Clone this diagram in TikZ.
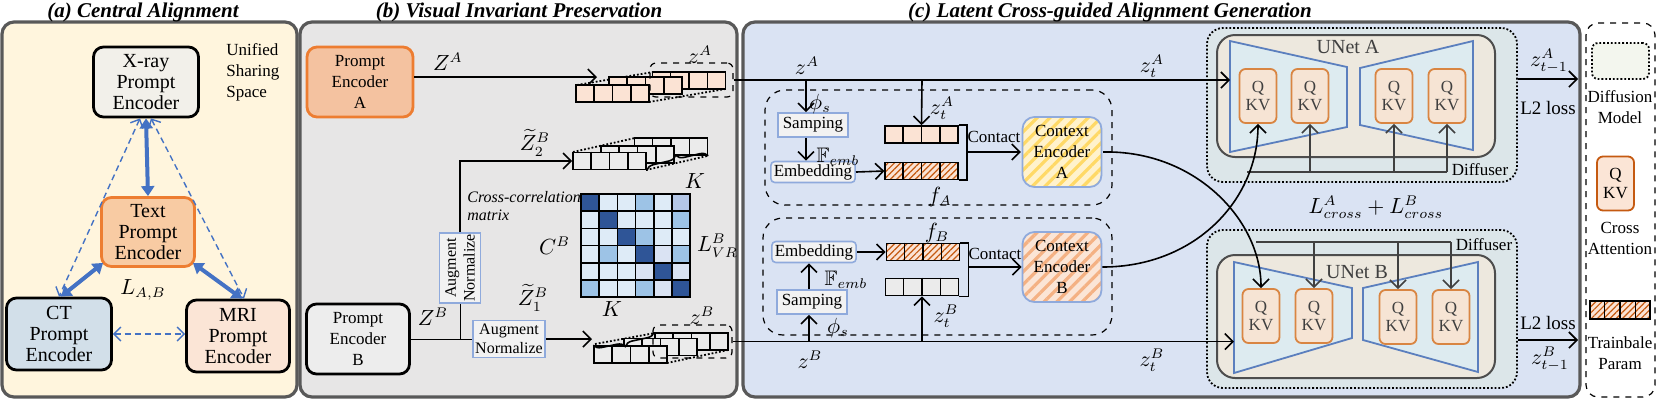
\documentclass[tikz,border=0pt]{standalone}
\usepackage{fontspec}
\setmainfont{Liberation Serif}
\usepackage{amssymb}
\usetikzlibrary{arrows.meta, positioning, calc, patterns.meta, decorations.pathreplacing}

\definecolor{panelgray}{RGB}{89,89,89}
\definecolor{bgyellow}{RGB}{255,245,221}
\definecolor{bggray}{RGB}{231,230,230}
\definecolor{bgblue}{RGB}{218,227,243}
\definecolor{xraygray}{RGB}{242,240,234}
\definecolor{textpeach}{RGB}{248,203,163}
\definecolor{encorange}{RGB}{237,125,49}
\definecolor{ctblue}{RGB}{210,223,233}
\definecolor{mripeach}{RGB}{251,229,214}
\definecolor{arrblue}{RGB}{68,114,196}
\definecolor{promptA}{RGB}{244,194,160}
\definecolor{promptB}{RGB}{237,237,237}
\definecolor{cellpeach}{RGB}{251,227,212}
\definecolor{cellgray}{RGB}{235,235,235}
\definecolor{boxline}{RGB}{143,170,220}
\definecolor{boxfill}{RGB}{242,242,242}
\definecolor{hatchorange}{RGB}{197,90,17}
\definecolor{ctxyellow}{RGB}{255,242,204}
\definecolor{ctxstripe}{RGB}{255,217,102}
\definecolor{ctxorange}{RGB}{244,177,131}
\definecolor{diffill}{RGB}{220,230,233}
\definecolor{unetfill}{RGB}{237,232,222}
\definecolor{unetline}{RGB}{77,77,77}
\definecolor{trapfill}{RGB}{221,235,240}
\definecolor{trapline}{RGB}{91,127,190}
\definecolor{qkvfill}{RGB}{246,228,212}
\definecolor{qkvline}{RGB}{217,133,66}
\definecolor{darktext}{RGB}{64,64,64}
\definecolor{legfill}{RGB}{243,246,238}
\definecolor{mD}{RGB}{47,85,151}
\definecolor{mM}{RGB}{157,195,230}
\definecolor{mL}{RGB}{222,235,247}
\definecolor{mP}{RGB}{218,227,243}
\definecolor{mV}{RGB}{180,199,231}

\newcommand{\fsenc}{\fontsize{10}{10.5}\selectfont}
\newcommand{\fsbox}{\fontsize{8.5}{10.5}\selectfont}
\newcommand{\fsaug}{\fontsize{8}{9.3}\selectfont}
\newcommand{\fsqkv}{\fontsize{8.5}{9.3}\selectfont}
\newcommand{\fslbl}{\fontsize{10.5}{12}\selectfont}

% one row of four cells
\newcommand{\cellrow}[3]{%
  \node[cellbox, #3] (#1) at (#2) {};
  \foreach \k in {1,2,3}
    \draw[line width=0.8pt] ($(#1.north west)!\k/4!(#1.north east)$) -- ($(#1.south west)!\k/4!(#1.south east)$);
}

\begin{document}
\begin{tikzpicture}[x=0.5pt, y=-0.5pt,
  panel/.style={draw=panelgray, line width=1.6pt, rounded corners=6pt},
  ttl/.style={font=\fontsize{10.5}{12}\selectfont\bfseries\itshape, inner sep=0pt},
  encbox/.style={draw, line width=1.4pt, rounded corners=5pt, align=center, inner sep=0pt, font=\fsenc},
  smallbox/.style={draw=boxline, fill=boxfill, line width=0.8pt, align=center, inner xsep=1.5pt, inner ysep=1pt, font=\fsbox},
  cellbox/.style={draw, line width=0.8pt, minimum width=36.5pt, minimum height=8.5pt, inner sep=0pt},
  hatch/.style={preaction={fill=cellpeach}, pattern={Lines[angle=45,distance=2.2pt,line width=0.6pt]}, pattern color=hatchorange},
  stackbox/.style={draw, dashed, line width=0.6pt, rounded corners=3pt, inner sep=0pt},
  grpbox/.style={draw, dashed, line width=0.6pt, rounded corners=10pt, inner sep=0pt},
  ctxbox/.style={draw=boxline, line width=0.9pt, rounded corners=6pt, align=center, inner sep=0pt, minimum width=39.5pt, minimum height=35pt, font=\fsbox},
  difbox/.style={draw, densely dotted, line width=0.9pt, rounded corners=8pt, fill=diffill, inner sep=0pt, minimum width=155pt},
  unetbox/.style={draw=unetline, fill=unetfill, line width=1pt, rounded corners=9pt, inner sep=0pt, minimum width=139pt},
  trap/.style={draw=trapline, fill=trapfill, line width=0.9pt},
  qkv/.style={draw=qkvline, fill=qkvfill, line width=0.9pt, rounded corners=3pt, minimum width=18.5pt, minimum height=27pt, inner sep=0pt, align=center, text=darktext, font=\fsqkv},
  lbl/.style={inner sep=0pt, font=\fslbl},
  txt/.style={inner sep=0pt, align=center, font=\fsbox},
  arr/.style={line width=0.8pt, -{Straight Barb[length=4pt,width=8pt]}},
  garr/.style={arr, draw=darktext},
  gline/.style={line width=0.8pt, draw=darktext},
  bigarr/.style={draw=arrblue, line width=2pt, {Triangle[length=5pt,width=6.5pt]}-{Triangle[length=5pt,width=6.5pt]}},
  dasharr/.style={draw=arrblue, line width=0.7pt, dash pattern=on 3pt off 2pt, {Straight Barb[length=3.5pt,width=7pt]}-{Straight Barb[length=3.5pt,width=7pt]}},
]
\useasboundingbox (0,0) rectangle (1661,404);

% panels
\draw[panel, fill=bgyellow] (2,22) rectangle (297,397);
\draw[panel, fill=bggray] (300,22) rectangle (737,397);
\draw[panel, fill=bgblue] (743,22) rectangle (1580,397);
\draw[dashed, line width=0.6pt, rounded corners=6pt, fill=white] (1586,23) rectangle (1655,397);

\node[ttl] (ttla) at (143,12) {(a) Central Alignment};
\node[ttl] (ttlb) at (519,12) {(b) Visual Invariant Preservation};
\node[ttl] (ttlc) at (1110,12) {(c) Latent Cross-guided Alignment Generation};

% (a) central alignment
\node[encbox, fill=xraygray, minimum width=52.5pt, minimum height=35pt] (xray) at (146,82) {X-ray\\Prompt\\Encoder};
\node[encbox, draw=encorange, fill=textpeach, minimum width=46.5pt, minimum height=34.5pt] (textenc) at (148,232) {Text\\Prompt\\Encoder};
\node[encbox, fill=ctblue, minimum width=52.5pt, minimum height=36pt] (ct) at (59,334) {CT\\Prompt\\Encoder};
\node[encbox, fill=mripeach, minimum width=51.5pt, minimum height=36pt] (mri) at (238,336) {MRI\\Prompt\\Encoder};
\node[inner sep=0pt, align=left, anchor=north west, font=\fsbox] (uss) at (226,43) {Unified\\Sharing\\Space};
\node[lbl] (lab) at (143,290) {$L_{A,B}$};

\draw[dasharr] ($(xray.south)+(-6,0)$) -- (ct.north);
\draw[dasharr] ($(xray.south)+(5,0)$) -- ($(mri.north)+(6,0)$);
\draw[dasharr] (ct.east) -- (ct.east -| mri.west);
\draw[bigarr] (xray.south) -- (textenc.north);
\draw[bigarr] ($(textenc.south west)+(3,-5)$) -- ($(ct.north)+(2,0)$);
\draw[bigarr] ($(textenc.south east)+(-3,-5)$) -- ($(mri.north)+(4,0)$);

% (b) visual invariant preservation
\node[encbox, font=\fsbox, draw=encorange, fill=promptA, minimum width=53pt, minimum height=35pt] (pA) at (360,82) {Prompt\\Encoder\\A};
\node[encbox, font=\fsbox, fill=promptB, minimum width=51.5pt, minimum height=35pt] (pB) at (358,339) {Prompt\\Encoder\\B};

\coordinate (zAin) at (597,77);
\draw[arr] (pA.east |- zAin) -- (zAin);
\node[lbl] (labZA) at (448,62) {$Z^A$};

\draw[densely dotted, line width=0.9pt] (577,85) -- (653,72) (649,102) -- (725,89);
\cellrow{zA3}{689,80.5}{fill=cellpeach}
\cellrow{zA2}{645.5,85.5}{fill=cellpeach}
\cellrow{zA1}{612.5,93.5}{fill=cellpeach}
\node[stackbox, minimum width=41.5pt, minimum height=17pt] (zAbox) at (691.5,80) {};
\node[lbl] (labzA) at (700,55) {$z^A$};

\draw[densely dotted, line width=0.9pt] (573,152) -- (635,138) (646,170) -- (707,156);
\cellrow{zBt3}{671,146.5}{fill=cellgray}
\cellrow{zBt2}{637.5,154.5}{fill=cellgray}
\cellrow{zBt1}{609.5,161}{fill=cellgray}
\draw[decorate, decoration={brace, amplitude=4pt}, line width=0.8pt] (zBt1.south east) -- (zBt3.south east);
\node[lbl] (labK1) at (695,181) {$K$};
\node[lbl] (labZ2) at (535,143) {$\widetilde{Z}_2^B$};

\node[smallbox, font=\fsaug, rotate=90, minimum width=35pt, minimum height=20.5pt, inner sep=0.5pt] (vAug) at (460,268) {Augment\\Normalize};
\draw (vAug.west) -- (vAug.west |- pB.east);
\draw[arr] (vAug.east) |- (zBt1.west);
\node[inner sep=0pt, align=left, anchor=west, font=\fsaug\itshape] (ccl) at (467,206) {Cross-correlation\\matrix};

\node[smallbox, font=\fsaug, minimum width=36pt, minimum height=18.5pt, inner xsep=1pt, inner ysep=0pt] (hAug) at (509,339) {Augment\\Normalize};
\draw (pB.east) -- (hAug.west);
\node[lbl] (labZB) at (433,317) {$Z^B$};
\node[lbl] (labZ1) at (533,298) {$\widetilde{Z}_1^B$};
\coordinate (zBin) at (592,339);
\draw[arr] (hAug.east) -- (zBin);

\draw[densely dotted, line width=0.9pt] (595,344) -- (655,333) (667,363) -- (728,350);
\cellrow{zB3}{691.5,341.5}{fill=cellgray}
\cellrow{zB2}{660.5,347}{fill=cellgray}
\cellrow{zB1}{630.5,354.5}{fill=cellgray}
\node[stackbox, minimum width=39.5pt, minimum height=16.5pt] (zBbox) at (692.5,341.5) {};
\draw[decorate, decoration={brace, amplitude=4pt, mirror}, line width=0.8pt] (zB1.north west) -- (zB3.north west);
\node[lbl] (labK2) at (612,309) {$K$};
\node[lbl] (labzB) at (702,316) {$z^B$};

% cross-correlation matrix
\foreach \row [count=\i] in {{D,L,L,M,L,V},{L,D,L,L,L,M},{L,L,D,M,L,L},{L,M,L,D,P,M},{L,L,L,P,D,P},{M,L,L,M,P,D}}
  \foreach \c [count=\j] in \row
    \draw[line width=0.8pt, fill=m\c] ({581+18.2*(\j-1)},{194+17.2*(\i-1)}) rectangle ++(18.2,17.2);
\node[inner sep=0pt, minimum width=54.6pt, minimum height=51.6pt] (ccm) at (635.6,245.6) {};
\node[lbl, left=5pt of ccm] (labC) {$C^B$};
\node[lbl, right=3pt of ccm] (labLVR) {$L_{VR}^B$};

% (c) latent cross-guided alignment generation
\node[grpbox, minimum width=173.5pt, minimum height=57.5pt] (grpA) at (938.5,147.5) {};
\node[grpbox, minimum width=174.5pt, minimum height=58.5pt] (grpB) at (937.5,276.5) {};

\coordinate (tapA) at (806,80);
\coordinate (tapA2) at (922,80);
\coordinate (tapB) at (809,341.5);
\coordinate (tapB2) at (922,341.5);

% upper branch
\node[smallbox, minimum width=35pt, minimum height=12pt] (sampA) at (813,125) {Samping};
\node[smallbox, rounded corners=2pt, minimum width=42pt, minimum height=10.5pt] (embA) at (813,172) {Embedding};
\cellrow{zAt}{921.5,134.5}{fill=cellpeach}
\cellrow{fA}{921.5,171}{hatch}
\draw[arr] (tapA) -- (tapA |- sampA.north);
\draw[arr] (tapA |- sampA.south) -- (tapA |- embA.north);
\draw[arr] (embA.east) -- (fA.west);
\draw[arr] (tapA2) -- (zAt.north);
\node[ctxbox, preaction={fill=ctxyellow}, pattern={Lines[angle=45,distance=4.5pt,line width=1.6pt]}, pattern color=ctxstripe] (ctxA) at (1062,152) {Context\\Encoder\\A};
\draw[line width=0.8pt] (zAt.north east) -- ++(8,0) coordinate (brA) -- (brA |- fA.south east) -- (fA.south east);
\draw[arr] (brA |- ctxA.west) -- (ctxA.west);
\node[txt] (conA) at (994,137) {Contact};
\node[lbl] (labzA2) at (807,66) {$z^A$};
\node[lbl] (labphiA) at (820,104) {$\phi_s$};
\node[lbl] (labFA) at (838,157) {$\mathbb{F}_{emb}$};
\node[lbl] (labztA) at (942,108) {$z_t^A$};
\node[lbl] (labfA) at (940,197) {$f_A$};

% lower branch
\node[smallbox, rounded corners=2pt, minimum width=42pt, minimum height=10.5pt] (embB) at (814,252) {Embedding};
\node[smallbox, minimum width=35pt, minimum height=12pt] (sampB) at (812,302) {Samping};
\cellrow{fB}{923,252}{hatch}
\cellrow{zBt}{922,287}{fill=cellgray}
\draw[arr] (tapB) -- (tapB |- sampB.south);
\draw[arr] (tapB |- sampB.north) -- (tapB |- embB.south);
\draw[arr] (embB.east) -- (fB.west);
\draw[arr] (tapB2) -- (zBt.south);
\node[ctxbox, preaction={fill=mripeach}, pattern={Lines[angle=45,distance=4.5pt,line width=1.6pt]}, pattern color=ctxorange] (ctxB) at (1062,267) {Context\\Encoder\\B};
\draw[line width=0.8pt] (fB.north east) -- ++(8,0) coordinate (brB) -- (brB |- zBt.south east) -- (zBt.south east);
\draw[arr] (brB |- ctxB.west) -- (ctxB.west);
\node[txt] (conB) at (995,254) {Contact};
\node[lbl] (labfB) at (937,233) {$f_B$};
\node[lbl] (labFB) at (846,280) {$\mathbb{F}_{emb}$};
\node[lbl] (labphiB) at (838,328) {$\phi_s$};
\node[lbl] (labzB2) at (810,360) {$z^B$};
\node[lbl] (labztB) at (946,316) {$z_t^B$};

% UNet A
\node[difbox, minimum height=77pt] (difA) at (1362,105) {};
\node[unetbox, minimum height=61pt] (unA) at (1356,96) {};
\draw[trap] (1230,41) -- (1347,67) -- (1347,127) -- (1230,152) -- cycle;
\draw[trap] (1360,68) -- (1473,41) -- (1473,150) -- (1360,125) -- cycle;
\node[inner sep=0pt, text=darktext, font=\fsenc] (unAlbl) at (1348,47) {UNet A};
\node[qkv] (qa1) at (1258,96) {Q\\KV};
\node[qkv] (qa2) at (1310,96) {Q\\KV};
\node[qkv] (qa3) at (1394,96) {Q\\KV};
\node[qkv] (qa4) at (1447,96) {Q\\KV};
\node[txt] (dfA) at (1480,170) {Diffuser};
\coordinate (feedA) at (1247,172);
\draw[gline] (feedA) -- (feedA -| qa4.south);
\foreach \q in {qa2,qa3,qa4}
  \draw[garr] (feedA -| \q.south) -- (\q.south);

% UNet B
\node[difbox, minimum height=79pt] (difB) at (1362,309) {};
\node[unetbox, minimum height=61.5pt] (unB) at (1356,316.5) {};
\draw[trap] (1234,262) -- (1352,288) -- (1352,338) -- (1234,373) -- cycle;
\draw[trap] (1363,288) -- (1478,262) -- (1478,372) -- (1363,340) -- cycle;
\node[inner sep=0pt, text=darktext, font=\fsenc] (unBlbl) at (1357,272) {UNet B};
\node[qkv] (qb1) at (1261,316) {Q\\KV};
\node[qkv] (qb2) at (1314,316) {Q\\KV};
\node[qkv] (qb3) at (1398,317) {Q\\KV};
\node[qkv] (qb4) at (1451,317) {Q\\KV};
\node[txt] (dfB) at (1484,245) {Diffuser};
\coordinate (feedB) at (1256,242);
\draw[gline] (feedB) -- (feedB -| qb4.north);
\foreach \q in {qb2,qb3,qb4}
  \draw[garr] (feedB -| \q.north) -- (\q.north);

% latents into the UNets
\coordinate (uAin) at (1230,80);
\coordinate (uBin) at (1234,341.5);
\draw[arr] (zAbox.east) -- (uAin);
\draw[arr] (zBbox.east) -- (uBin);
\node[lbl] (labztA2) at (1152,66) {$z_t^A$};
\node[lbl] (labztB2) at (1152,360) {$z_t^B$};

% cross guidance
\draw[arr] (ctxB.east) .. controls (1195,267) and (1258,200) .. (qa1.south);
\draw[arr] (ctxA.east) .. controls (1195,150) and (1261,220) .. (qb1.north);
\node[lbl] (labcross) at (1376,207) {$L_{cross}^A+L_{cross}^B$};

% outputs
\coordinate (outA) at (1578,79);
\coordinate (outB) at (1578,340);
\draw[arr] (difA.east |- outA) -- (outA);
\draw[arr] (difB.east |- outB) -- (outB);
\node[lbl] (labzA3) at (1549,61) {$z_{t-1}^A$};
\node[lbl] (labzB3) at (1550,359) {$z_{t-1}^B$};
\node[txt, font=\fontsize{9.5}{11}\selectfont] (l2A) at (1548,108) {L2 loss};
\node[txt, font=\fontsize{9.5}{11}\selectfont] (l2B) at (1548,323) {L2 loss};

% legend
\node[draw, densely dotted, line width=0.9pt, rounded corners=3pt, fill=legfill, minimum width=28.5pt, minimum height=18pt] (legdif) at (1620.5,61) {};
\node[txt] (legdift) at (1620,107) {Diffusion\\Model};
\node[qkv, draw=hatchorange, fill=mripeach, text=black] (legq) at (1615.5,183.5) {Q\\KV};
\node[txt] (legqt) at (1620,238) {Cross\\Attention};
\node[cellbox, hatch, minimum width=30pt, minimum height=9pt] (legh) at (1620,310) {};
\foreach \k in {1,2,3}
  \draw[line width=0.8pt] ($(legh.north west)!\k/4!(legh.north east)$) -- ($(legh.south west)!\k/4!(legh.south east)$);
\node[txt] (leght) at (1620,353) {Trainbale\\Param};
\end{tikzpicture}
\end{document}
